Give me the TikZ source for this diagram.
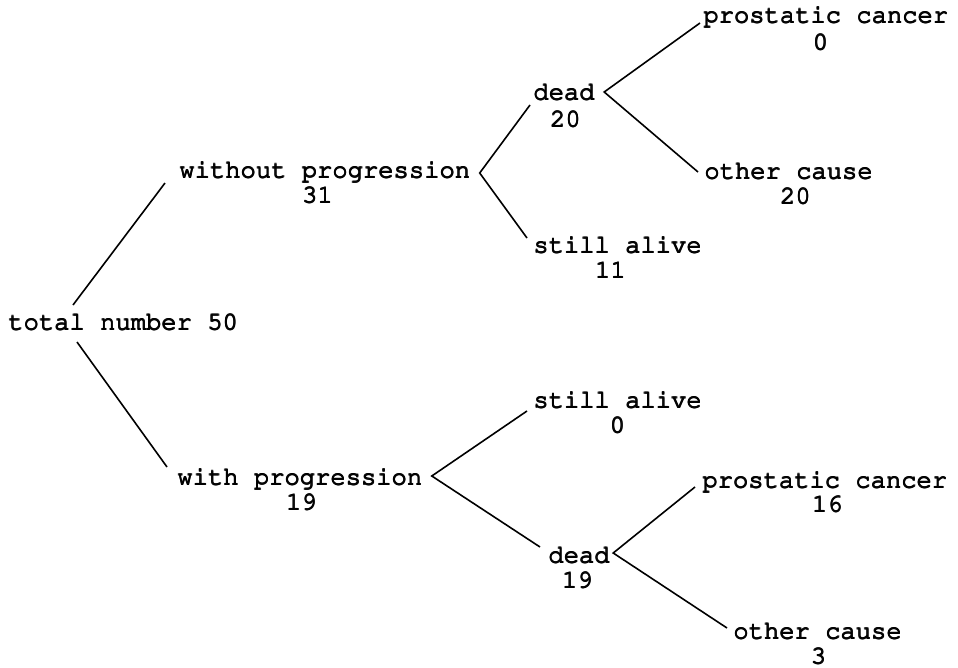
\documentclass[tikz,border=0pt]{standalone}
\usepackage[T1]{fontenc}
\newcommand\courtxt{\fontencoding{T1}\fontfamily{pcr}\fontseries{m}\fontshape{n}\fontsize{25.5pt}{25pt}\selectfont}
\newcommand\heavytxt[1]{\leavevmode\rlap{#1}\rlap{\kern0.95pt#1}\rlap{\raisebox{0.6pt}{#1}}\rlap{\kern0.95pt\raisebox{0.6pt}{#1}}\hphantom{#1}}
\begin{document}
\begin{tikzpicture}[x=1pt,y=-1pt,
  lbl/.style={inner sep=0pt,outer sep=0pt,anchor=base west,font=\courtxt},
  num/.style={inner sep=0pt,outer sep=0pt,anchor=base,font=\courtxt},
  branch/.style={line width=1.6pt,line join=miter,line cap=butt}]
\useasboundingbox (0,0) rectangle (958,667);
% labels
\node[lbl] (tot) at (8,330) {\heavytxt{total number 50}};
\node[lbl] (wp) at (179,178) {\heavytxt{without progression}};
\node[num] (n31) at (317,203) {\heavytxt{31}};
\node[lbl] (wi) at (177,485) {\heavytxt{with progression}};
\node[num] (n19a) at (301,510) {\heavytxt{19}};
\node[lbl] (deadT) at (533,100) {\heavytxt{dead}};
\node[num] (n20a) at (565,127) {\heavytxt{20}};
\node[lbl] (aliveT) at (533,253) {\heavytxt{still alive}};
\node[num] (n11) at (610,278) {\heavytxt{11}};
\node[lbl] (pcT) at (703,23) {\heavytxt{prostatic cancer}};
\node[num] (n0a) at (820,50) {\heavytxt{0}};
\node[lbl] (ocT) at (704,179) {\heavytxt{other cause}};
\node[num] (n20b) at (795,204) {\heavytxt{20}};
\node[lbl] (aliveB) at (533,408) {\heavytxt{still alive}};
\node[num] (n0b) at (617,433) {\heavytxt{0}};
\node[lbl] (deadB) at (548,563) {\heavytxt{dead}};
\node[num] (n19b) at (577,588) {\heavytxt{19}};
\node[lbl] (pcB) at (702,488) {\heavytxt{prostatic cancer}};
\node[num] (n16) at (827,512) {\heavytxt{16}};
\node[lbl] (ocB) at (733,639) {\heavytxt{other cause}};
\node[num] (n3) at (818,664) {\heavytxt{3}};
% connectors
\draw[branch] ([shift={(65,-25)}]tot.base west) -- ([shift={(-14,5)}]wp.base west);
\draw[branch] ([shift={(69,12)}]tot.base west) -- ([shift={(-10,-18)}]wi.base west);
\draw[branch] ([shift={(-3,5)}]deadT.base west) -- ([shift={(10,-5)}]wp.base east) -- ([shift={(-6,-15)}]aliveT.base west);
\draw[branch] ([shift={(-3,0)}]pcT.base west) -- ([shift={(10,-8)}]deadT.base east) -- ([shift={(-6,-7)}]ocT.base west);
\draw[branch] ([shift={(-6,3)}]aliveB.base west) -- ([shift={(10,-9)}]wi.base east) -- ([shift={(-8,-16)}]deadB.base west);
\draw[branch] ([shift={(-7,-1)}]pcB.base west) -- ([shift={(4,-10)}]deadB.base east) -- ([shift={(-6,-11)}]ocB.base west);
\end{tikzpicture}
\end{document}
